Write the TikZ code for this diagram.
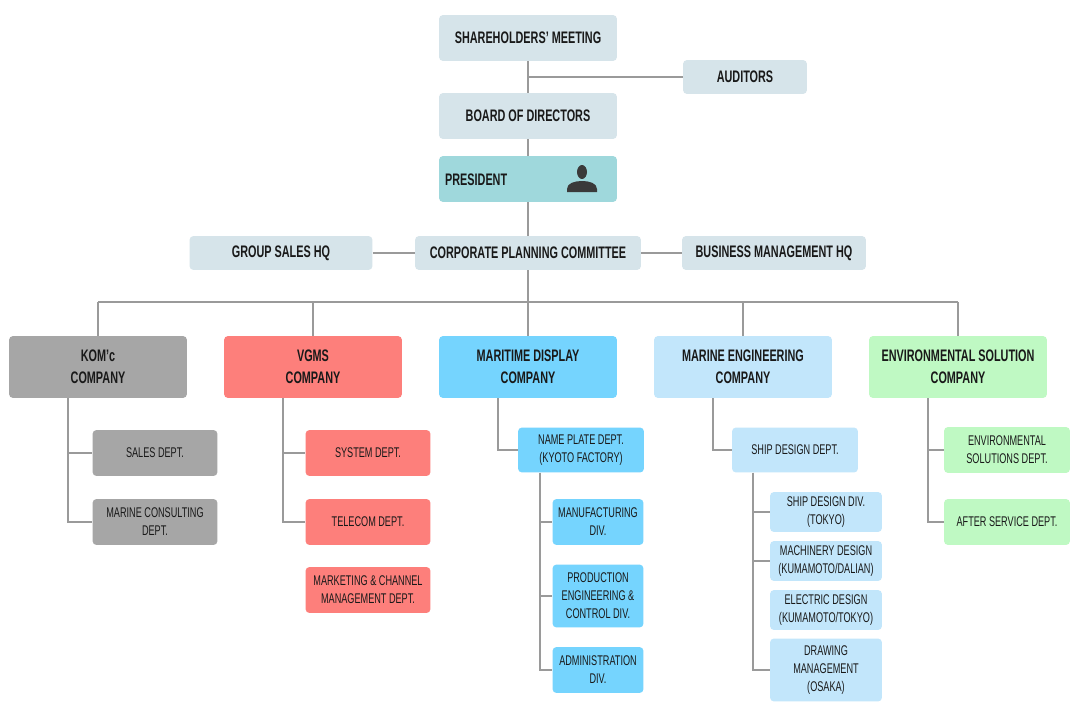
\documentclass[tikz,border=0pt]{standalone}
\usepackage{fontspec}
\setmainfont{Liberation Sans}[FakeStretch=0.65]
\usepackage{xcolor}
\usepackage{tikz}

\definecolor{topc}{HTML}{D6E4EA}
\definecolor{presc}{HTML}{9FD8DC}
\definecolor{komc}{HTML}{A6A6A6}
\definecolor{vgmsc}{HTML}{FD7F7B}
\definecolor{mdc}{HTML}{75D4FE}
\definecolor{mec}{HTML}{C2E6FB}
\definecolor{envc}{HTML}{BFF9C3}
\definecolor{linec}{HTML}{9A9A9A}
\definecolor{iconc}{HTML}{3A3A3A}

\begin{document}
\begin{tikzpicture}[x=0.02cm,y=-0.02cm,
  box/.style={rounded corners=2.3pt, align=center, inner sep=1pt, text=black!90,
    font=\fontsize{9.5}{12.5}\selectfont\bfseries},
  sub/.style={box, font=\fontsize{8}{10.2}\selectfont},
  link/.style={draw=linec, line width=1.4pt}]
\useasboundingbox[fill=white] (0,0) rectangle (1080,720);

% top of the chart
\node[box, fill=topc, minimum width=3.56cm, minimum height=0.92cm] (share) at (528,38) {SHAREHOLDERS’ MEETING};
\node[box, fill=topc, minimum width=2.48cm, minimum height=0.68cm] (audit) at (745,77) {AUDITORS};
\node[box, fill=topc, minimum width=3.56cm, minimum height=0.92cm] (board) at (528,116) {BOARD OF DIRECTORS};
\node[box, fill=presc, minimum width=3.56cm, minimum height=0.92cm] (pres) at (528,179) {};
\node[box, anchor=west] (prestext) at (443,180) {PRESIDENT};
\fill[iconc] (582,172) ellipse (0.1cm and 0.14cm);
\fill[iconc] (567,192) -- (567,189) .. controls (567,183) and (575,181) .. (582,181)
  .. controls (589,181) and (597,183) .. (597,189) -- (597,192) -- cycle;

\node[box, fill=topc, minimum width=3.66cm, minimum height=0.68cm] (gsales) at (281,253) {GROUP SALES HQ};
\node[box, fill=topc, minimum width=4.52cm, minimum height=0.68cm] (corp) at (528,253) {CORPORATE PLANNING COMMITTEE};
\node[box, fill=topc, minimum width=3.68cm, minimum height=0.68cm] (bman) at (774,253) {BUSINESS MANAGEMENT HQ};

% companies
\node[box, fill=komc, minimum width=3.56cm, minimum height=1.24cm] (kom) at (98,367) {KOM’c\\COMPANY};
\node[box, fill=vgmsc, minimum width=3.56cm, minimum height=1.24cm] (vgms) at (313,367) {VGMS\\COMPANY};
\node[box, fill=mdc, minimum width=3.56cm, minimum height=1.24cm] (mdisp) at (528,367) {MARITIME DISPLAY\\COMPANY};
\node[box, fill=mec, minimum width=3.56cm, minimum height=1.24cm] (meng) at (743,367) {MARINE ENGINEERING\\COMPANY};
\node[box, fill=envc, minimum width=3.56cm, minimum height=1.24cm] (env) at (958,367) {ENVIRONMENTAL SOLUTION\\COMPANY};

% departments
\node[sub, fill=komc, minimum width=2.5cm, minimum height=0.92cm] (sales) at (155,453) {SALES DEPT.};
\node[sub, fill=komc, minimum width=2.5cm, minimum height=0.92cm] (mcons) at (155,522) {MARINE CONSULTING\\DEPT.};
\node[sub, fill=vgmsc, minimum width=2.5cm, minimum height=0.92cm] (sys) at (368,453) {SYSTEM DEPT.};
\node[sub, fill=vgmsc, minimum width=2.5cm, minimum height=0.92cm] (tel) at (368,522) {TELECOM DEPT.};
\node[sub, fill=vgmsc, minimum width=2.5cm, minimum height=0.92cm] (mkt) at (368,590) {MARKETING \& CHANNEL\\MANAGEMENT DEPT.};
\node[sub, fill=mdc, minimum width=2.52cm, minimum height=0.9cm] (nplate) at (581,450) {NAME PLATE DEPT.\\(KYOTO FACTORY)};
\node[sub, fill=mdc, minimum width=1.82cm, minimum height=0.92cm] (manu) at (598,522) {MANUFACTURING\\DIV.};
\node[sub, fill=mdc, minimum width=1.82cm, minimum height=1.26cm] (prod) at (598,596) {PRODUCTION\\ENGINEERING \&\\CONTROL DIV.};
\node[sub, fill=mdc, minimum width=1.82cm, minimum height=0.92cm] (admin) at (598,670) {ADMINISTRATION\\DIV.};
\node[sub, fill=mec, minimum width=2.52cm, minimum height=0.9cm] (sdept) at (795,450) {SHIP DESIGN DEPT.};
\node[sub, fill=mec, minimum width=2.24cm, minimum height=0.8cm] (sdiv) at (826,512) {SHIP DESIGN DIV.\\(TOKYO)};
\node[sub, fill=mec, minimum width=2.24cm, minimum height=0.8cm] (mach) at (826,561) {MACHINERY DESIGN\\(KUMAMOTO/DALIAN)};
\node[sub, fill=mec, minimum width=2.24cm, minimum height=0.8cm] (elec) at (826,610) {ELECTRIC DESIGN\\(KUMAMOTO/TOKYO)};
\node[sub, fill=mec, minimum width=2.24cm, minimum height=1.26cm] (drawm) at (826,670) {DRAWING\\MANAGEMENT\\(OSAKA)};
\node[sub, fill=envc, minimum width=2.52cm, minimum height=0.92cm] (envsol) at (1007,450) {ENVIRONMENTAL\\SOLUTIONS DEPT.};
\node[sub, fill=envc, minimum width=2.52cm, minimum height=0.92cm] (after) at (1007,522) {AFTER SERVICE DEPT.};

% connectors
\draw[link] (share) -- (board);
\draw[link] (audit.west) -- (share.south |- audit.west);
\draw[link] (board) -- (pres);
\draw[link] (pres) -- (corp);
\draw[link] (gsales) -- (corp);
\draw[link] (corp) -- (bman);
\coordinate (bus) at (528,302);
\draw[link] (corp) -- (bus);
\draw[link] (kom.north |- bus) -- (env.north |- bus);
\foreach \c in {kom,vgms,mdisp,meng,env}
    \draw[link] (\c.north |- bus) -- (\c.north);

\foreach \c/\d in {kom/sales,kom/mcons,vgms/sys,vgms/tel,mdisp/nplate,meng/sdept,env/envsol,env/after}
    \draw[link] ([xshift=-0.6cm]\c.south) |- (\d.west);
\foreach \d in {manu,prod,admin}
    \draw[link] ([xshift=-0.82cm]nplate.south) |- (\d.west);
\foreach \d in {sdiv,mach,drawm}
    \draw[link] ([xshift=-0.84cm]sdept.south) |- (\d.west);
\end{tikzpicture}
\end{document}
